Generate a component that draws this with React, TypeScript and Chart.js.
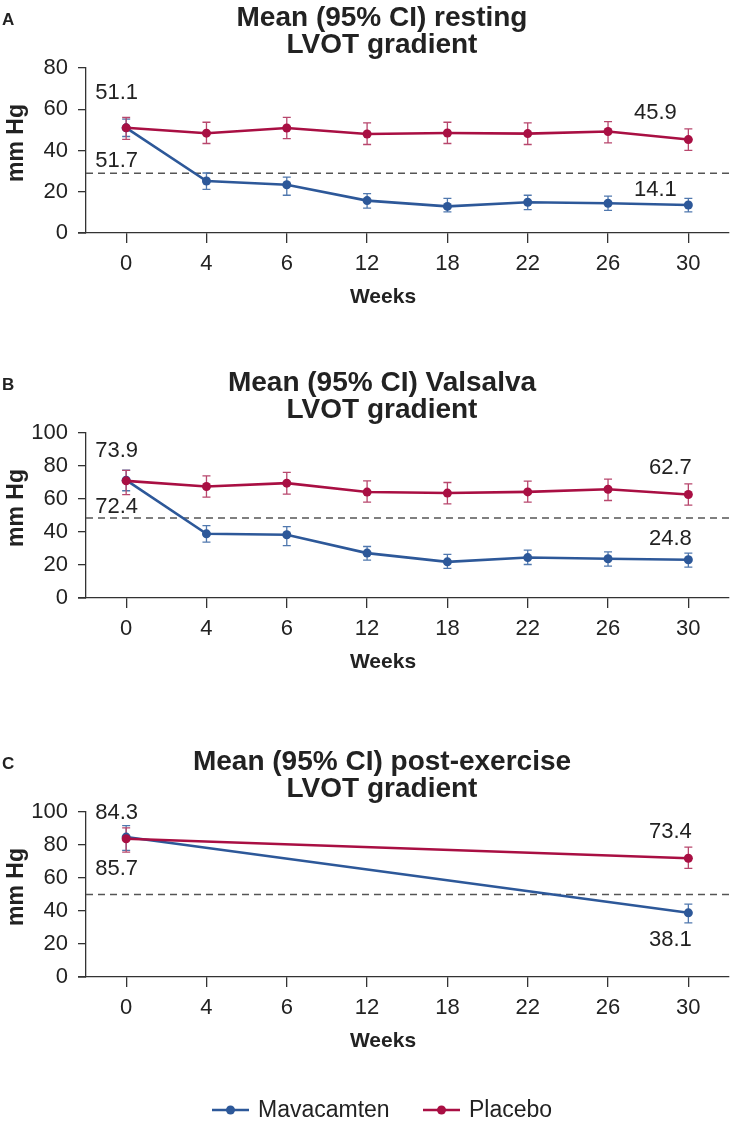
import React, { useEffect, useRef } from 'react';
import { Chart, registerables } from 'chart.js';

Chart.register(...registerables);

const FONT = 'Liberation Sans, Arial, Helvetica, sans-serif';
const BLUE = '#2D5899';
const BLUE_ERR = '#5078AE';
const RED = '#A90F43';
const RED_ERR = '#B8476D';

// ---------- data ----------
const weeks = ['0', '4', '6', '12', '18', '22', '26', '30'];
const seriesNames = ['Mavacamten', 'Placebo'];

// Panel A: resting LVOT gradient
const restingMava = [51.0, 25.2, 23.4, 15.7, 12.9, 14.9, 14.4, 13.6];
const restingMavaLow = [46.8, 21.2, 18.3, 12.1, 10.2, 11.3, 11.0, 10.2];
const restingMavaHigh = [55.2, 29.1, 27.1, 19.1, 16.8, 18.3, 17.9, 16.8];
const restingPlacebo = [51.0, 48.4, 50.9, 48.0, 48.5, 48.2, 49.2, 45.3];
const restingPlaceboLow = [45.4, 43.4, 45.8, 42.9, 43.4, 42.9, 43.7, 40.1];
const restingPlaceboHigh = [56.0, 53.7, 56.1, 53.4, 53.7, 53.4, 54.0, 50.5];
const restingThreshold = 29;
const restingLabels = ['51.1', '51.7', '45.9', '14.1'];

// Panel B: Valsalva LVOT gradient
const valsalvaMava = [71.4, 38.9, 38.3, 27.2, 21.9, 24.5, 23.8, 23.2];
const valsalvaMavaLow = [65.0, 33.9, 31.8, 22.9, 17.9, 20.3, 19.3, 18.7];
const valsalvaMavaHigh = [77.5, 43.9, 43.3, 31.2, 26.4, 29.0, 28.0, 27.2];
const valsalvaPlacebo = [71.0, 67.6, 69.6, 64.2, 63.6, 64.3, 65.9, 62.7];
const valsalvaPlaceboLow = [62.7, 61.1, 62.9, 58.1, 57.1, 58.1, 59.1, 56.3];
const valsalvaPlaceboHigh = [77.3, 74.0, 76.1, 71.0, 70.0, 70.8, 72.0, 69.2];
const valsalvaThreshold = 48.5;
const valsalvaLabels = ['73.9', '72.4', '62.7', '24.8'];

// Panel C: post-exercise LVOT gradient
const exerciseMava = [84.8, null, null, null, null, null, null, 38.9];
const exerciseMavaLow = [76.7, null, null, null, null, null, null, 32.8];
const exerciseMavaHigh = [91.8, null, null, null, null, null, null, 44.2];
const exercisePlacebo = [83.8, null, null, null, null, null, null, 72.0];
const exercisePlaceboLow = [75.7, null, null, null, null, null, null, 65.8];
const exercisePlaceboHigh = [90.4, null, null, null, null, null, null, 78.7];
const exerciseThreshold = 50;
const exerciseLabels = ['84.3', '85.7', '73.4', '38.1'];

const yTicksA = { max: 80, step: 20 };
const yTicksBC = { max: 100, step: 20 };

// ---------- plugin ----------
const decorPlugin = {
  id: 'panelDecor',
  beforeDatasetsDraw(chart: any, _args: any, opts: any) {
    const { ctx, chartArea, scales } = chart;
    const y = scales.y.getPixelForValue(opts.threshold);
    ctx.save();
    ctx.strokeStyle = '#555';
    ctx.lineWidth = 1.5;
    ctx.setLineDash([7, 5]);
    ctx.beginPath();
    ctx.moveTo(chartArea.left, y);
    ctx.lineTo(chart.width, y);
    ctx.stroke();
    ctx.setLineDash([]);
    chart.data.datasets.forEach((ds: any, di: number) => {
      const meta = chart.getDatasetMeta(di);
      ctx.strokeStyle = ds.errColor;
      ctx.lineWidth = 1.3;
      ds.lows.forEach((lo: number | null, i: number) => {
        const hi = ds.highs[i];
        if (lo == null || hi == null) return;
        const x = meta.data[i].x;
        const y1 = scales.y.getPixelForValue(lo);
        const y2 = scales.y.getPixelForValue(hi);
        ctx.beginPath();
        ctx.moveTo(x, y1); ctx.lineTo(x, y2);
        ctx.moveTo(x - 4, y1); ctx.lineTo(x + 4, y1);
        ctx.moveTo(x - 4, y2); ctx.lineTo(x + 4, y2);
        ctx.stroke();
      });
    });
    ctx.restore();
  },
  afterDraw(chart: any, _args: any, opts: any) {
    const { ctx, chartArea } = chart;
    ctx.save();
    // small extension of x axis line to the left
    ctx.strokeStyle = '#333';
    ctx.lineWidth = 1.3;
    ctx.beginPath();
    ctx.moveTo(chartArea.left - 8, chartArea.bottom);
    ctx.lineTo(chartArea.left, chartArea.bottom);
    ctx.stroke();

    ctx.fillStyle = '#222';
    // panel letter
    ctx.font = `bold 17px ${FONT}`;
    ctx.textAlign = 'left';
    ctx.textBaseline = 'alphabetic';
    ctx.fillText(opts.letter, 2, 25);
    // title
    ctx.font = `bold 28px ${FONT}`;
    ctx.textAlign = 'center';
    ctx.fillText(opts.title[0], 382, 26);
    ctx.fillText(opts.title[1], 382, 53);
    // x axis title
    ctx.font = `bold 21px ${FONT}`;
    ctx.fillText('Weeks', 383, 303);
    // y axis title
    ctx.save();
    ctx.translate(23, 143);
    ctx.rotate(-Math.PI / 2);
    ctx.font = `bold 23px ${FONT}`;
    ctx.textAlign = 'center';
    ctx.fillText('mm Hg', 0, 0);
    ctx.restore();
    // value labels
    ctx.font = `22px ${FONT}`;
    ctx.textAlign = 'center';
    ctx.textBaseline = 'middle';
    opts.labels.forEach((lb: any) => {
      const meta = chart.getDatasetMeta(lb.ds);
      const pt = meta.data[lb.index];
      ctx.fillText(lb.text, pt.x + lb.dx, pt.y + lb.dy);
    });
    // legend
    if (opts.legend) {
      const ly = opts.legend.y;
      const items = [
        { x: 212, color: BLUE, text: seriesNames[0] },
        { x: 423, color: RED, text: seriesNames[1] },
      ];
      items.forEach((it) => {
        ctx.strokeStyle = it.color;
        ctx.lineWidth = 2.5;
        ctx.beginPath();
        ctx.moveTo(it.x, ly);
        ctx.lineTo(it.x + 37, ly);
        ctx.stroke();
        ctx.fillStyle = it.color;
        ctx.beginPath();
        ctx.arc(it.x + 18.5, ly, 4.5, 0, Math.PI * 2);
        ctx.fill();
        ctx.fillStyle = '#222';
        ctx.font = `23px ${FONT}`;
        ctx.textAlign = 'left';
        ctx.textBaseline = 'middle';
        ctx.fillText(it.text, it.x + 46, ly + 1);
      });
    }
    ctx.restore();
  },
};

function makeDataset(label: string, data: any[], lows: any[], highs: any[], color: string, err: string, order: number) {
  return {
    label,
    data,
    lows,
    highs,
    errColor: err,
    borderColor: color,
    backgroundColor: color,
    pointBackgroundColor: color,
    pointBorderColor: color,
    pointBorderWidth: 0,
    pointRadius: 4.5,
    borderWidth: 2.6,
    tension: 0,
    spanGaps: true,
    order,
  };
}

interface PanelProps {
  top: number;
  height: number;
  bottomPad: number;
  letter: string;
  title: string[];
  yMax: number;
  yStep: number;
  threshold: number;
  mava: any[]; mavaLow: any[]; mavaHigh: any[];
  placebo: any[]; placeboLow: any[]; placeboHigh: any[];
  labels: any[];
  legend?: any;
}

function Panel(p: PanelProps) {
  const ref = useRef<HTMLCanvasElement | null>(null);
  useEffect(() => {
    if (!ref.current) return;
    const tickFont = { family: FONT, size: 22 };
    const chart = new Chart(ref.current, {
      type: 'line',
      data: {
        labels: weeks,
        datasets: [
          makeDataset(seriesNames[0], p.mava, p.mavaLow, p.mavaHigh, BLUE, BLUE_ERR, 1) as any,
          makeDataset(seriesNames[1], p.placebo, p.placeboLow, p.placeboHigh, RED, RED_ERR, 0) as any,
        ],
      },
      options: {
        responsive: false,
        animation: false,
        layout: { padding: { top: 68, left: 0, right: 2, bottom: p.bottomPad } },
        plugins: {
          legend: { display: false },
          tooltip: { enabled: false },
          title: { display: false },
          panelDecor: {
            letter: p.letter,
            title: p.title,
            threshold: p.threshold,
            labels: p.labels,
            legend: p.legend,
          },
        } as any,
        scales: {
          x: {
            type: 'category',
            offset: true,
            grid: { drawOnChartArea: false, color: '#333', lineWidth: 1.3, tickLength: 10 },
            border: { color: '#333', width: 1.3 },
            ticks: { font: tickFont, color: '#222', padding: 8, maxRotation: 0, autoSkip: false },
            afterFit: (s: any) => { s.height = 87; },
          },
          y: {
            min: 0,
            max: p.yMax,
            ticks: { stepSize: p.yStep, font: tickFont, color: '#222', padding: 10 },
            grid: { drawOnChartArea: false, color: '#333', lineWidth: 1.3, tickLength: 8 },
            border: { color: '#333', width: 1.3 },
            afterFit: (s: any) => { s.width = 86; },
          },
        },
      },
      plugins: [decorPlugin],
    });
    return () => chart.destroy();
  }, []);
  return (
    <div style={{ position: 'absolute', left: 0, top: p.top, width: 733, height: p.height }}>
      <canvas ref={ref} width={733} height={p.height} style={{ display: 'block' }} />
    </div>
  );
}

const lbl = (texts: string[], rdx: number, dys: number[]) => [
  { ds: 1, index: 0, text: texts[0], dx: -9.5, dy: dys[0] },
  { ds: 0, index: 0, text: texts[1], dx: -9.5, dy: dys[1] },
  { ds: 1, index: 7, text: texts[2], dx: rdx, dy: dys[2] },
  { ds: 0, index: 7, text: texts[3], dx: rdx, dy: dys[3] },
];

export default function App() {
  return (
    <div style={{ position: 'absolute', left: 0, top: 0, width: 733, height: 1125, background: '#fff' }}>
      <Panel
        top={0} height={320} bottomPad={0}
        letter="A" title={['Mean (95% CI) resting', 'LVOT gradient']}
        yMax={yTicksA.max} yStep={yTicksA.step} threshold={restingThreshold}
        mava={restingMava} mavaLow={restingMavaLow} mavaHigh={restingMavaHigh}
        placebo={restingPlacebo} placeboLow={restingPlaceboLow} placeboHigh={restingPlaceboHigh}
        labels={lbl(restingLabels, -33, [-35, 33, -27, -15.5])}
      />
      <Panel
        top={365} height={320} bottomPad={0}
        letter="B" title={['Mean (95% CI) Valsalva', 'LVOT gradient']}
        yMax={yTicksBC.max} yStep={yTicksBC.step} threshold={valsalvaThreshold}
        mava={valsalvaMava} mavaLow={valsalvaMavaLow} mavaHigh={valsalvaMavaHigh}
        placebo={valsalvaPlacebo} placeboLow={valsalvaPlaceboLow} placeboHigh={valsalvaPlaceboHigh}
        labels={lbl(valsalvaLabels, -18, [-29.5, 26.5, -26.5, -20.5])}
      />
      <Panel
        top={744} height={381} bottomPad={61}
        letter="C" title={['Mean (95% CI) post-exercise', 'LVOT gradient']}
        yMax={yTicksBC.max} yStep={yTicksBC.step} threshold={exerciseThreshold}
        mava={exerciseMava} mavaLow={exerciseMavaLow} mavaHigh={exerciseMavaHigh}
        placebo={exercisePlacebo} placeboLow={exercisePlaceboLow} placeboHigh={exercisePlaceboHigh}
        labels={lbl(exerciseLabels, -18, [-25.5, 32, -26.5, 27.5])}
        legend={{ y: 366 }}
      />
    </div>
  );
}
